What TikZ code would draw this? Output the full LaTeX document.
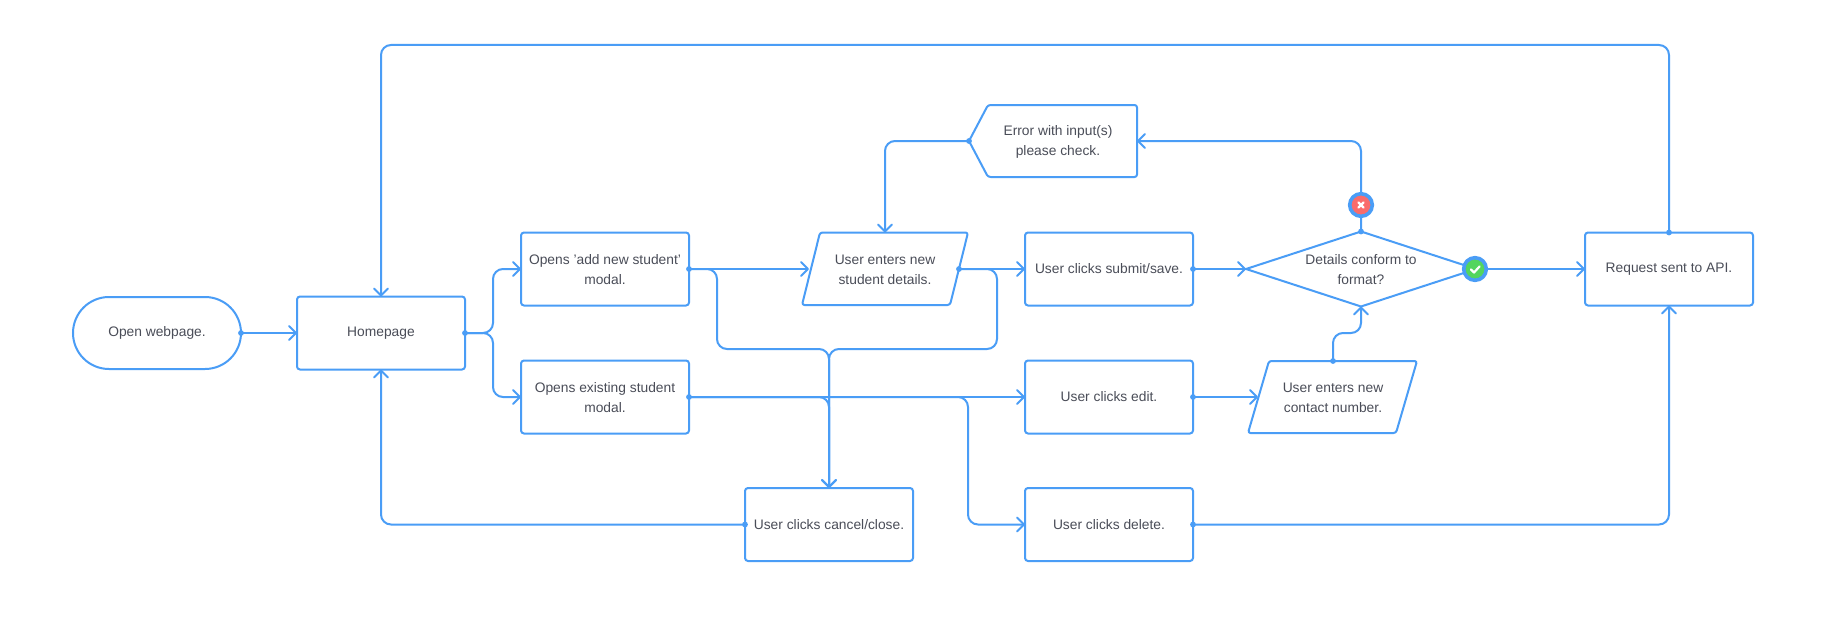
\documentclass[tikz,border=0pt]{standalone}
\usepackage{fontspec}
\setmainfont{Liberation Sans}
\usetikzlibrary{arrows.meta,shapes.geometric}
\definecolor{flow}{HTML}{4A9DF6}
\definecolor{ink}{HTML}{4A4D58}
\definecolor{nored}{HTML}{F96B6B}
\definecolor{yesgreen}{HTML}{53D55E}
\newcommand{\lineup}{\rule{0pt}{12pt}}
\tikzset{
  x=1pt,y=-1pt,
  txt/.style={text=ink,font=\fontsize{13.8}{20}\selectfont,align=center,inner sep=0pt,outer sep=0pt},
  stepbox/.style={txt,draw=flow,line width=2pt,rectangle,rounded corners=3pt,minimum width=168pt,minimum height=73pt},
  pill/.style={txt,draw=flow,line width=2pt,rectangle,rounded corners=36pt,minimum width=168pt,minimum height=72pt},
  question/.style={txt,draw=flow,line width=2pt,diamond,aspect=3.07,minimum width=230pt,minimum height=75pt},
  label/.style={txt},
  outline/.style={draw=flow,line width=2pt,rounded corners=2.5pt,line join=round},
  link/.style={draw=flow,line width=2pt,rounded corners=10pt,line cap=round,-{Straight Barb[length=7pt,width=14pt,line width=2pt,round]}},
  dot/.style={fill=flow,draw=none},
  badge/.style={circle,draw=flow,line width=3.6pt,minimum size=22.6pt,inner sep=0pt},
  glyph/.style={draw=white,line width=2.2pt,line cap=round,line join=round}
}
\begin{document}
\begin{tikzpicture}
\useasboundingbox (0,0) rectangle (1826,634);
\fill[white] (0,0) rectangle (1826,634);
% boxes
\node[pill] (open) at (157,333) {Open webpage.};
\node[stepbox] (home) at (381,333) {Homepage};
\node[stepbox] (add) at (605,269) {\lineup Opens 'add new student'\\modal.};
\node[stepbox] (exist) at (605,397) {\lineup Opens existing student\\modal.};
\node[stepbox] (cancel) at (829,524.5) {User clicks cancel/close.};
\node[stepbox] (submit) at (1109,269) {User clicks submit/save.};
\node[stepbox] (edit) at (1109,397) {User clicks edit.};
\node[stepbox] (del) at (1109,524.5) {User clicks delete.};
\node[stepbox] (req) at (1669,269) {Request sent to API.};
\node[question] (conf) at (1361,269) {\lineup Details conform to\\format?};
% slanted shapes
\draw[outline] (820,232.5) -- (968,232.5) -- (950,305) -- (802,305) -- cycle;
\node[label] (entry) at (885,269) {\lineup User enters new\\student details.};
\coordinate (entryin) at (809,269);
\coordinate (entryout) at (959,269);
\coordinate (entrytop) at (885,232.5);
\draw[outline] (1269,361) -- (1417,361) -- (1396,433) -- (1248,433) -- cycle;
\node[label] (phone) at (1333,397) {\lineup User enters new\\contact number.};
\coordinate (phonein) at (1258,397);
\coordinate (phonetop) at (1333,361);
\draw[outline] (988,105) -- (1137,105) -- (1137,177) -- (988,177) -- (969,141) -- cycle;
\node[label] (err) at (1058,141) {\lineup Error with input(s)\\please check.};
\coordinate (errin) at (1137,141);
\coordinate (errout) at (969,141);
% routing points
\coordinate (toprail) at (1000,45);
\coordinate (busL) at (717,349);
\coordinate (busR) at (997,349);
\coordinate (dropx) at (968,397);
\coordinate (homefork) at (493,333);
\coordinate (noicon) at (1361,205);
\coordinate (yesicon) at (1475,269);
\coordinate (riser) at (1333,333);
% connectors
\path[link] (open.east) -- (home.west);
\path[link] (home.east) -- (homefork) |- (add.west);
\path[link] (home.east) -- (homefork) |- (exist.west);
\path[link] (add.east) -- (entryin);
\path[link] (add.east) -| (busL) -| (cancel.north);
\path[link] (entryout) -- (submit.west);
\path[link] (entryout) -| (busR) -| (cancel.north);
\path[link] (exist.east) -- (edit.west);
\path[link] (exist.east) -| (cancel.north);
\path[link] (exist.east) -- (dropx) |- (del.west);
\path[link] (edit.east) -- (phonein);
\path[link] (phonetop) -- (riser) -| (conf.south);
\path[link] (submit.east) -- (conf.west);
\path[link] (yesicon) -- (req.west);
\path[link] (conf.north) |- (errin);
\path[link] (errout) -| (entrytop);
\path[link] (req.north) |- (toprail) -| (home.north);
\path[link] (del.east) -| (req.south);
\path[link] (cancel.west) -| (home.south);
% start dots
\foreach \p in {open.east,home.east,add.east,exist.east,entryout,edit.east,phonetop,cancel.west,del.east,req.north,errout,conf.north,submit.east}
  \fill[dot] (\p) circle (2.9pt);
% badges
\node[badge,fill=nored] (no) at (noicon) {};
\draw[glyph] (1358.3,202.3) -- (1363.7,207.7) (1363.7,202.3) -- (1358.3,207.7);
\node[badge,fill=yesgreen] (yes) at (yesicon) {};
\draw[glyph] (1471,269.5) -- (1474,272.5) -- (1479.5,266.5);
\end{tikzpicture}
\end{document}
